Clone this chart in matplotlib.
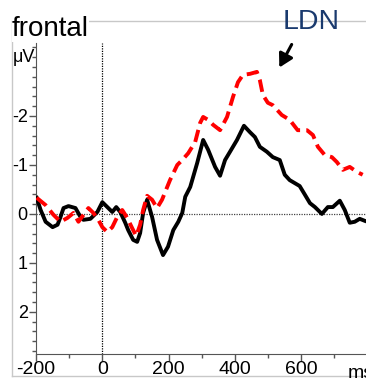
import numpy as np
import matplotlib.pyplot as plt
from matplotlib.lines import Line2D
from matplotlib.ticker import MultipleLocator

plt.rcParams['font.family'] = ['Liberation Sans', 'DejaVu Sans']

# black solid trace (ms, uV; negative plotted upward)
black_t = [-198, -186, -171, -150, -135, -126, -117, -102, -81, -66, -57, -36, -15, 0,
           15, 30, 42, 54, 69, 78, 93, 105, 114, 123, 135, 150, 165, 183, 198, 214,
           229, 241, 250, 265, 286, 304, 319, 340, 355, 370, 385, 406, 427, 445, 460,
           475, 496, 514, 535, 550, 565, 595, 611, 626, 641, 662, 680, 695, 716, 731,
           746, 761, 776, 791]
black_v = [-0.33, -0.08, 0.16, 0.27, 0.22, 0.06, -0.12, -0.16, -0.12, 0.06, 0.12, 0.10,
           -0.04, -0.24, -0.14, -0.04, -0.14, -0.04, 0.18, 0.33, 0.53, 0.57, 0.39, -0.02,
           -0.29, 0.06, 0.53, 0.84, 0.67, 0.33, 0.16, -0.02, -0.35, -0.55, -1.04, -1.51,
           -1.31, -0.96, -0.78, -1.10, -1.27, -1.51, -1.80, -1.67, -1.57, -1.37, -1.27,
           -1.16, -1.10, -0.80, -0.69, -0.57, -0.39, -0.22, -0.14, 0.0, -0.14, -0.14,
           -0.27, -0.08, 0.18, 0.16, 0.10, 0.14]

# red dashed trace
red_t = [-198, -171, -147, -126, -105, -87, -72, -57, -42, -27, -12, 0, 15, 30, 45, 60,
         75, 90, 102, 114, 123, 135, 150, 165, 180, 204, 226, 241, 259, 280, 295, 304,
         319, 334, 355, 376, 394, 409, 424, 445, 466, 475, 484, 499, 514, 541, 565, 589,
         617, 635, 650, 671, 692, 707, 725, 746, 767, 785]
red_v = [-0.33, -0.18, 0.02, 0.16, 0.08, -0.02, 0.16, 0.02, -0.12, -0.02, 0.12, 0.27,
         0.37, 0.27, 0.06, -0.08, 0.08, 0.29, 0.45, 0.22, -0.08, -0.37, -0.29, -0.12,
         -0.29, -0.69, -1.0, -1.10, -1.24, -1.47, -1.86, -1.98, -1.92, -1.82, -1.71,
         -1.98, -2.39, -2.69, -2.84, -2.86, -2.90, -2.73, -2.43, -2.27, -2.22, -2.02,
         -1.92, -1.71, -1.71, -1.61, -1.37, -1.20, -1.16, -1.06, -0.90, -0.96, -0.86,
         -0.80]

x_ticks = [-200, 0, 200, 400, 600]
y_ticks = [-2, -1, 0, 1, 2]

W, H = 366, 379
fig = plt.figure(figsize=(W / 100, H / 100), dpi=100)
ax = fig.add_axes([36 / W, 25 / H, 330 / W, 311 / H])

# zero lines
ax.axvline(0, color='black', lw=0.9, ls=(0, (1, 1)), zorder=1)
ax.axhline(0, color='#444444', lw=0.9, ls=(0, (1, 1)), zorder=1)

ax.plot(black_t, black_v, color='black', lw=2.8, solid_joinstyle='round', zorder=3)
ax.plot(red_t, red_v, color='#ff0000', lw=2.8, dashes=(3.2, 1.6), zorder=4)

ax.set_xlim(-200, 795)
ax.set_ylim(2.86, -3.49)
ax.set_xticks(x_ticks)
ax.set_xticklabels([str(v) for v in x_ticks])
ax.set_yticks(y_ticks)
ax.set_yticklabels([str(v) for v in y_ticks])
ax.xaxis.set_minor_locator(MultipleLocator(100))
ax.yaxis.set_minor_locator(MultipleLocator(0.2))
ax.tick_params(axis='both', which='major', direction='out', length=5, width=1,
               color='#555555', pad=1)
ax.tick_params(axis='both', which='minor', direction='out', length=3, width=1,
               color='#555555')
ax.tick_params(axis='x', labelsize=14, pad=0)
ax.tick_params(axis='y', labelsize=13)
for s in ['top', 'right']:
    ax.spines[s].set_visible(False)
for s in ['left', 'bottom']:
    ax.spines[s].set_color('#555555')
ax.patch.set_alpha(0)

# light gray frame
fc = '#c8c8c8'
fig.add_artist(Line2D([12 / W, 1], [1 - 21 / H, 1 - 21 / H], color=fc, lw=1))
fig.add_artist(Line2D([12 / W, 12 / W], [1 - 21 / H, 1 - 376 / H], color=fc, lw=1))
fig.add_artist(Line2D([12 / W, 1], [1 - 376 / H, 1 - 376 / H], color=fc, lw=1))

fig.text(12 / W, 1 - 36 / H, 'frontal', fontsize=20, color='black',
         bbox=dict(facecolor='white', edgecolor='none', pad=0))
fig.text(13 / W, 1 - 62 / H, 'μV', fontsize=13, color='black')
fig.text(348 / W, 1 - 378 / H, 'ms', fontsize=14, color='black')
fig.text(283 / W, 1 - 29 / H, 'LDN', fontsize=20.5, color='#1a3a6e')

# arrow pointing to the LDN peak
fig.add_artist(plt.Annotation('', xy=(278 / W, 1 - 70 / H), xytext=(293 / W, 1 - 42 / H),
                              xycoords='figure fraction', textcoords='figure fraction',
                              arrowprops=dict(arrowstyle='-|>,head_length=0.8,head_width=0.45',
                                              color='black', lw=2.2)))

fig.savefig('out.png', dpi=100)
